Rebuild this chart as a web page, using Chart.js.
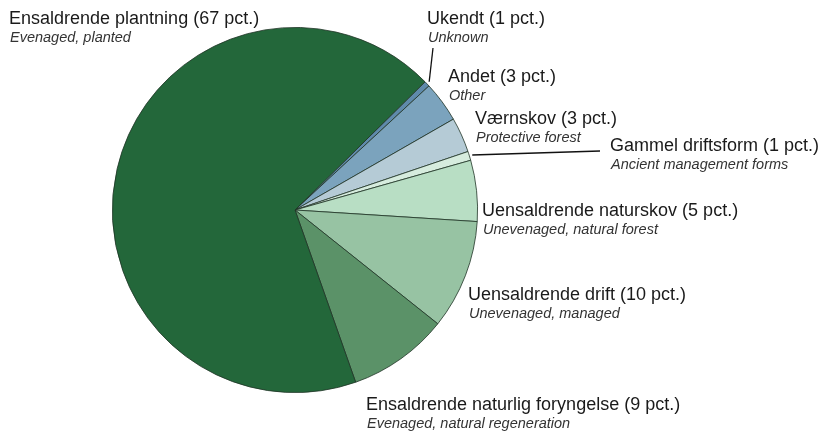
<!DOCTYPE html>
<html>
<head>
<meta charset="utf-8">
<script src="https://cdn.jsdelivr.net/npm/chart.js@4/dist/chart.umd.min.js"></script>
<style>
  html, body { margin: 0; padding: 0; background: #fff; }
  #wrap { width: 827px; height: 431px; }
</style>
</head>
<body>
<div id="wrap"><canvas id="pie" width="827" height="431"></canvas></div>
<script>
// slices in clockwise order, starting at the top-right edge of the big slice
const names = ['Ukendt', 'Andet', 'Værnskov', 'Gammel driftsform', 'Uensaldrende naturskov',
  'Uensaldrende drift', 'Ensaldrende naturlig foryngelse', 'Ensaldrende plantning'];
const english = ['Unknown', 'Other', 'Protective forest', 'Ancient management forms',
  'Unevenaged, natural forest', 'Unevenaged, managed', 'Evenaged, natural regeneration', 'Evenaged, planted'];
const pctLabels = [1, 3, 3, 1, 5, 10, 9, 67];
const shares = [0.5, 3.6, 3.1, 0.8, 5.4, 9.7, 8.9, 68];

const colors = ['#5f8aab', '#7ba3bd', '#b5cbd6', '#d6ecde', '#b8dec4', '#97c3a3', '#5b9268', '#23673a'];

// label anchors: [left x, baseline of first line], and an optional leader end
const labelPos = [[427, 24], [448, 82], [475, 124], [610, 151], [482, 216], [468, 300], [366, 410], [9, 24]];
const leaders = { 0: [433, 48], 3: [600, 151] };

const labelPlugin = {
  id: 'sliceLabels',
  afterDatasetsDraw(chart) {
    const ctx = chart.ctx;
    const arcs = chart.getDatasetMeta(0).data;
    ctx.save();
    ctx.textBaseline = 'alphabetic';
    ctx.textAlign = 'left';
    names.forEach((n, i) => {
      const [x, y] = labelPos[i];
      ctx.fillStyle = '#1a1a1a';
      ctx.font = '18px "Liberation Sans", Arial, sans-serif';
      ctx.fillText(n + ' (' + pctLabels[i] + ' pct.)', x, y);
      ctx.fillStyle = '#333';
      ctx.font = 'italic 14.5px "Liberation Sans", Arial, sans-serif';
      ctx.fillText(english[i], x + 1, y + 18);

      if (leaders[i]) {
        const a = arcs[i];
        const mid = (a.startAngle + a.endAngle) / 2;
        const r = a.outerRadius + 3;
        ctx.strokeStyle = '#111';
        ctx.lineWidth = 1.3;
        ctx.beginPath();
        ctx.moveTo(a.x + Math.cos(mid) * r, a.y + Math.sin(mid) * r);
        ctx.lineTo(leaders[i][0], leaders[i][1]);
        ctx.stroke();
      }
    });
    ctx.restore();
  }
};

new Chart(document.getElementById('pie'), {
  type: 'pie',
  data: {
    labels: names,
    datasets: [{
      data: shares,
      backgroundColor: colors,
      borderColor: '#1f3326',
      borderWidth: 0.8
    }]
  },
  options: {
    responsive: false,
    animation: false,
    rotation: 45.4,
    layout: { padding: { left: 0, right: 237, top: 27, bottom: 38 } },
    plugins: {
      legend: { display: false },
      tooltip: { enabled: false }
    }
  },
  plugins: [labelPlugin]
});
</script>
</body>
</html>
